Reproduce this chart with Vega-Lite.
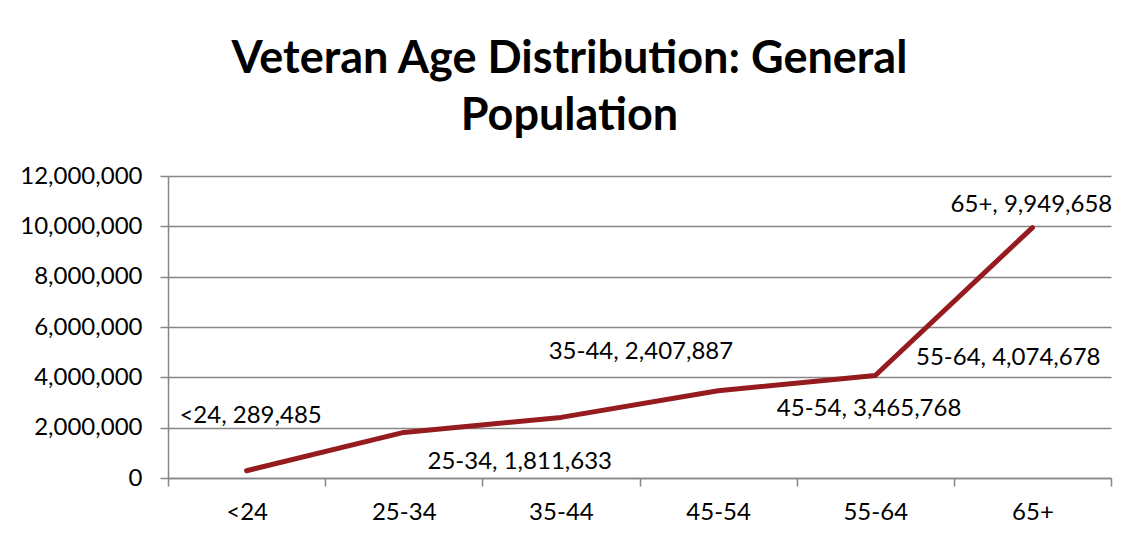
{
  "$schema": "https://vega.github.io/schema/vega-lite/v6.json",
  "width": 943,
  "height": 302,
  "autosize": {"type": "none"},
  "padding": {"left": 168, "top": 176, "right": 24, "bottom": 66},
  "background": "white",
  "config": {
    "font": "Lato",
    "view": {"stroke": null},
    "axis": {
      "labelFont": "Lato",
      "labelFontSize": 24,
      "labelColor": "#000000",
      "domainColor": "#868686",
      "domainWidth": 1.5,
      "tickColor": "#868686",
      "tickWidth": 1.5,
      "tickSize": 8,
      "gridColor": "#868686",
      "gridWidth": 1.5
    }
  },
  "title": {
    "text": ["Veteran Age Distribution: General", "Population"],
    "font": "Lato",
    "fontSize": 45,
    "fontWeight": "bold",
    "color": "#000000",
    "anchor": "middle",
    "frame": "group",
    "dx": -70,
    "lineHeight": 57,
    "offset": 25
  },
  "data": {
    "values": [
      {"age": "<24", "veterans": 289485, "label": "<24, 289,485"},
      {"age": "25-34", "veterans": 1811633, "label": "25-34, 1,811,633"},
      {"age": "35-44", "veterans": 2407887, "label": "35-44, 2,407,887"},
      {"age": "45-54", "veterans": 3465768, "label": "45-54, 3,465,768"},
      {"age": "55-64", "veterans": 4074678, "label": "55-64, 4,074,678"},
      {"age": "65+", "veterans": 9949658, "label": "65+, 9,949,658"}
    ]
  },
  "encoding": {
    "x": {
      "field": "age",
      "type": "ordinal",
      "sort": null,
      "scale": {"type": "band", "paddingInner": 0, "paddingOuter": 0},
      "axis": {"title": null, "labelAngle": 0, "tickBand": "extent", "labelPadding": 14, "grid": false}
    },
    "y": {
      "field": "veterans",
      "type": "quantitative",
      "scale": {"domain": [0, 12000000], "nice": false},
      "axis": {"title": null, "values": [0, 2000000, 4000000, 6000000, 8000000, 10000000, 12000000], "format": ",d", "labelPadding": 18, "grid": true}
    }
  },
  "layer": [
    {
      "mark": {"type": "line", "color": "#951b1f", "strokeWidth": 5, "strokeCap": "round", "strokeJoin": "round"}
    },
    {
      "transform": [{"filter": "datum.age === '<24'"}],
      "mark": {"type": "text", "fontSize": 24, "font": "Lato", "color": "#000000", "align": "center", "baseline": "middle", "dx": 4, "dy": -55},
      "encoding": {"text": {"field": "label"}}
    },
    {
      "transform": [{"filter": "datum.age === '25-34'"}],
      "mark": {"type": "text", "fontSize": 24, "font": "Lato", "color": "#000000", "align": "center", "baseline": "middle", "dx": 116, "dy": 30},
      "encoding": {"text": {"field": "label"}}
    },
    {
      "transform": [{"filter": "datum.age === '35-44'"}],
      "mark": {"type": "text", "fontSize": 24, "font": "Lato", "color": "#000000", "align": "center", "baseline": "middle", "dx": 80, "dy": -65},
      "encoding": {"text": {"field": "label"}}
    },
    {
      "transform": [{"filter": "datum.age === '45-54'"}],
      "mark": {"type": "text", "fontSize": 24, "font": "Lato", "color": "#000000", "align": "center", "baseline": "middle", "dx": 151, "dy": 18},
      "encoding": {"text": {"field": "label"}}
    },
    {
      "transform": [{"filter": "datum.age === '55-64'"}],
      "mark": {"type": "text", "fontSize": 24, "font": "Lato", "color": "#000000", "align": "center", "baseline": "middle", "dx": 133, "dy": -17},
      "encoding": {"text": {"field": "label"}}
    },
    {
      "transform": [{"filter": "datum.age === '65+'"}],
      "mark": {"type": "text", "fontSize": 24, "font": "Lato", "color": "#000000", "align": "center", "baseline": "middle", "dx": -1, "dy": -23},
      "encoding": {"text": {"field": "label"}}
    }
  ]
}
